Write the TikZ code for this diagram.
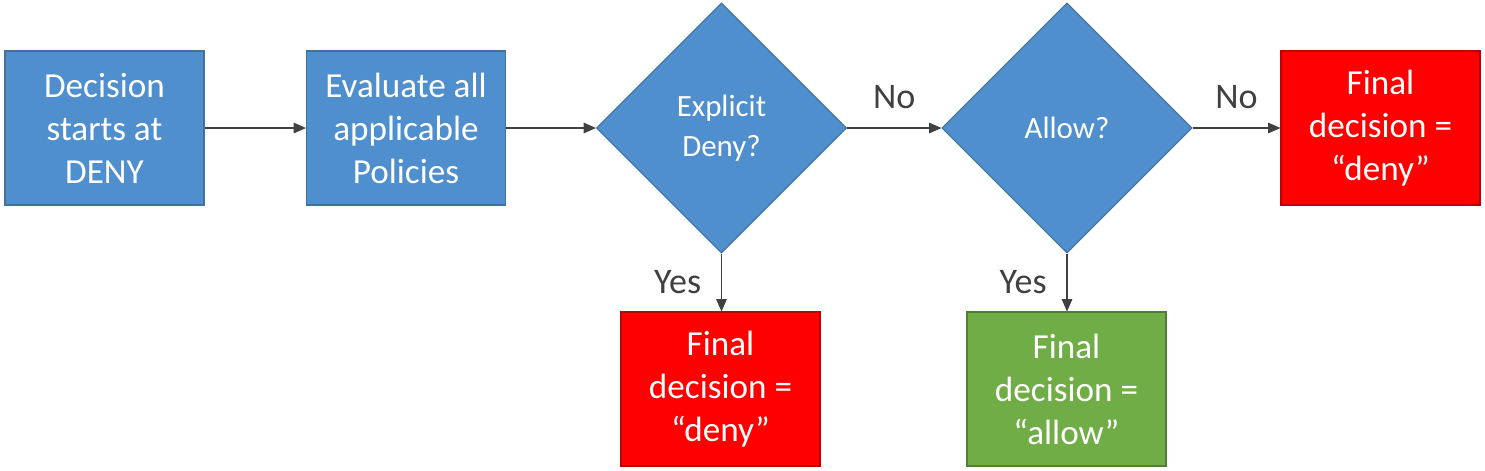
\documentclass[tikz,border=0pt]{standalone}
\usepackage{fontspec}
\setmainfont{Carlito}
\usetikzlibrary{shapes.geometric,arrows.meta}
\definecolor{boxblue}{RGB}{79,143,206}
\definecolor{edgeblue}{RGB}{65,113,156}
\definecolor{boxred}{RGB}{255,0,0}
\definecolor{edgered}{RGB}{192,0,0}
\definecolor{boxgreen}{RGB}{112,173,71}
\definecolor{edgegreen}{RGB}{80,126,50}
\definecolor{linegray}{RGB}{64,64,64}
\begin{document}
\begin{tikzpicture}[
    stepbox/.style={rectangle, draw=edgeblue, fill=boxblue, text=white, line width=0.6pt,
        minimum width=3.98cm, minimum height=3.08cm, align=center,
        font=\fontsize{20}{24.5}\selectfont},
    question/.style={diamond, draw=edgeblue, fill=boxblue, text=white, line width=0.6pt,
        minimum size=5cm, inner sep=0pt, align=center,
        font=\fontsize{17.6}{23}\selectfont},
    denybox/.style={stepbox, draw=edgered, fill=boxred},
    allowbox/.style={stepbox, draw=edgegreen, fill=boxgreen},
    flow/.style={-{Triangle[length=7pt, width=6pt]}, draw=linegray, line width=0.6pt},
    answer/.style={text=linegray, font=\fontsize{20.5}{24}\selectfont}
]
    \useasboundingbox (0,0) rectangle (29.7,-9.4);

    % Riga superiore
    \node[stepbox] (start) at (2.09,-2.56) {Decision\\starts at\\DENY};
    \node[stepbox] (eval) at (8.12,-2.56) {Evaluate all\\applicable\\Policies};
    \node[question] (explicit) at (14.43,-2.56) {Explicit\\Deny?};
    \node[question] (allow) at (21.34,-2.56) {Allow?};
    \node[denybox] (denyr) at (27.61,-2.56) {Final\\decision =\\``deny''};

    % Riga inferiore
    \node[denybox] (denyb) at (14.41,-7.78) {Final\\decision =\\``deny''};
    \node[allowbox] (allowb) at (21.33,-7.78) {Final\\decision =\\``allow''};

    % Frecce
    \draw[flow] (start) -- (eval);
    \draw[flow] (eval) -- (explicit);
    \draw[flow] (explicit) -- node[answer, midway, above=0.26cm] {No} (allow);
    \draw[flow] (allow) -- node[answer, midway, above=0.26cm] {No} (denyr);
    \draw[flow] (explicit.south) -- node[answer, midway, left=0.28cm] {Yes} (explicit.south |- denyb.north);
    \draw[flow] (allow.south) -- node[answer, midway, left=0.28cm] {Yes} (allow.south |- allowb.north);
\end{tikzpicture}
\end{document}
